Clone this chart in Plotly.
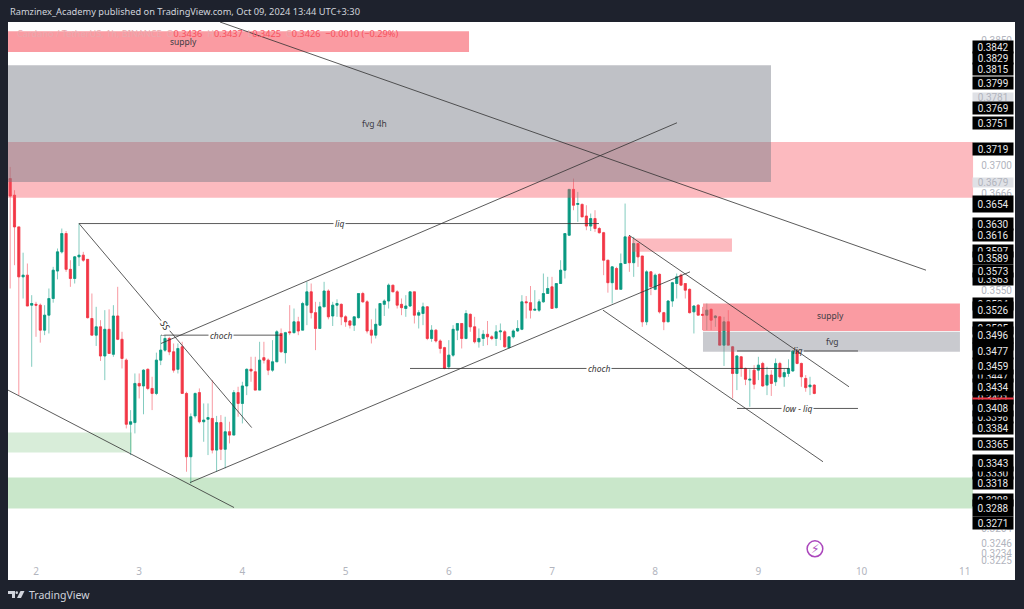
import numpy as np
import plotly.graph_objects as go

# ---------- candle data (hourly, Oct 1 18:00 onward) ----------
opens = [0.3684,0.3664,0.3626,0.3566,0.3568,0.3532,0.3533,0.3532,0.3502,0.3520,
0.3540,0.3573,0.3596,0.3618,0.3575,0.3564,0.3590,0.3592,0.3587,0.3516,
0.3496,0.3506,0.3471,0.3503,0.3473,0.3519,0.3491,0.3466,0.3389,0.3391,
0.3438,0.3435,0.3455,0.3432,0.3426,0.3466,0.3478,0.3492,0.3476,0.3455,
0.3482,0.3426,0.3350,0.3399,0.3427,0.3392,0.3395,0.3396,0.3358,0.3391,
0.3359,0.3380,0.3376,0.3427,0.3414,0.3435,0.3455,0.3452,0.3430,0.3469,
0.3466,0.3454,0.3464,0.3498,0.3475,0.3500,0.3499,0.3512,0.3502,0.3532,
0.3548,0.3523,0.3504,0.3530,0.3549,0.3519,0.3532,0.3533,0.3518,0.3513,
0.3508,0.3517,0.3546,0.3536,0.3502,0.3496,0.3508,0.3533,0.3537,0.3556,
0.3548,0.3533,0.3528,0.3531,0.3548,0.3520,0.3522,0.3530,0.3492,0.3502,
0.3489,0.3481,0.3458,0.3472,0.3502,0.3510,0.3492,0.3521,0.3506,0.3488,
0.3492,0.3497,0.3494,0.3492,0.3500,0.3500,0.3481,0.3494,0.3501,0.3503,
0.3536,0.3535,0.3526,0.3526,0.3536,0.3546,0.3554,0.3529,0.3558,0.3574,
0.3616,0.3671,0.3653,0.3653,0.3639,0.3627,0.3636,0.3624,0.3619,0.3586,
0.3559,0.3576,0.3551,0.3582,0.3614,0.3583,0.3606,0.3591,0.3512,0.3572,
0.3551,0.3569,0.3523,0.3512,0.3537,0.3558,0.3568,0.3558,0.3551,0.3524,
0.3532,0.3521,0.3520,0.3527,0.3517,0.3518,0.3484,0.3512,0.3482,0.3450,
0.3470,0.3456,0.3442,0.3454,0.3454,0.3462,0.3436,0.3448,0.3440,0.3462,
0.3446,0.3450,0.3453,0.3477,0.3462,0.3444,0.3434,0.3436]
closes = [0.3663,0.3626,0.3566,0.3568,0.3531,0.3534,0.3532,0.3502,0.3520,0.3540,
0.3574,0.3596,0.3618,0.3575,0.3564,0.3590,0.3592,0.3586,0.3517,0.3496,
0.3506,0.3471,0.3503,0.3474,0.3519,0.3491,0.3468,0.3389,0.3392,0.3438,
0.3435,0.3454,0.3432,0.3426,0.3466,0.3478,0.3492,0.3476,0.3454,0.3480,
0.3426,0.3350,0.3398,0.3426,0.3392,0.3394,0.3397,0.3358,0.3391,0.3359,
0.3380,0.3376,0.3427,0.3414,0.3435,0.3455,0.3453,0.3430,0.3466,0.3466,
0.3454,0.3464,0.3500,0.3476,0.3499,0.3499,0.3512,0.3501,0.3534,0.3548,
0.3523,0.3504,0.3530,0.3549,0.3518,0.3532,0.3534,0.3518,0.3512,0.3508,
0.3518,0.3546,0.3536,0.3501,0.3496,0.3509,0.3534,0.3537,0.3556,0.3548,
0.3532,0.3529,0.3531,0.3548,0.3520,0.3523,0.3530,0.3492,0.3502,0.3489,
0.3480,0.3456,0.3472,0.3503,0.3510,0.3492,0.3522,0.3506,0.3488,0.3492,
0.3497,0.3494,0.3492,0.3500,0.3501,0.3482,0.3494,0.3501,0.3504,0.3536,
0.3535,0.3526,0.3527,0.3536,0.3546,0.3552,0.3528,0.3558,0.3574,0.3618,
0.3671,0.3652,0.3654,0.3638,0.3627,0.3636,0.3624,0.3619,0.3586,0.3559,
0.3578,0.3551,0.3582,0.3614,0.3583,0.3606,0.3590,0.3512,0.3572,0.3554,
0.3568,0.3524,0.3512,0.3537,0.3559,0.3566,0.3556,0.3550,0.3523,0.3531,
0.3520,0.3520,0.3526,0.3514,0.3519,0.3484,0.3512,0.3484,0.3450,0.3471,
0.3456,0.3443,0.3443,0.3437,0.3460,0.3435,0.3448,0.3438,0.3462,0.3446,
0.3451,0.3456,0.3477,0.3462,0.3446,0.3433,0.3436,0.3426]
highs = [0.3698,0.3670,0.3626,0.3595,0.3582,0.3544,0.3536,0.3534,0.3532,0.3552,
0.3578,0.3600,0.3624,0.3621,0.3586,0.3591,0.3630,0.3596,0.3587,0.3546,
0.3530,0.3514,0.3526,0.3527,0.3532,0.3554,0.3500,0.3468,0.3406,0.3450,
0.3450,0.3455,0.3456,0.3446,0.3475,0.3496,0.3496,0.3494,0.3486,0.3486,
0.3488,0.3428,0.3402,0.3427,0.3432,0.3414,0.3414,0.3442,0.3399,0.3400,
0.3398,0.3392,0.3430,0.3434,0.3440,0.3456,0.3470,0.3470,0.3488,0.3488,
0.3468,0.3490,0.3502,0.3504,0.3500,0.3532,0.3528,0.3518,0.3536,0.3560,
0.3558,0.3536,0.3536,0.3560,0.3551,0.3536,0.3539,0.3534,0.3520,0.3514,
0.3518,0.3546,0.3548,0.3538,0.3515,0.3528,0.3534,0.3539,0.3558,0.3556,
0.3550,0.3540,0.3544,0.3548,0.3548,0.3526,0.3535,0.3531,0.3508,0.3503,
0.3491,0.3482,0.3490,0.3508,0.3510,0.3510,0.3526,0.3522,0.3518,0.3504,
0.3502,0.3513,0.3496,0.3508,0.3510,0.3502,0.3494,0.3503,0.3514,0.3544,
0.3543,0.3555,0.3550,0.3539,0.3570,0.3566,0.3566,0.3558,0.3586,0.3618,
0.3671,0.3684,0.3668,0.3654,0.3652,0.3642,0.3646,0.3626,0.3620,0.3586,
0.3579,0.3578,0.3594,0.3654,0.3616,0.3614,0.3606,0.3591,0.3574,0.3573,
0.3570,0.3570,0.3524,0.3538,0.3560,0.3570,0.3570,0.3558,0.3552,0.3532,
0.3533,0.3530,0.3534,0.3528,0.3520,0.3519,0.3518,0.3526,0.3483,0.3472,
0.3471,0.3457,0.3455,0.3460,0.3470,0.3464,0.3458,0.3454,0.3468,0.3464,
0.3456,0.3467,0.3478,0.3479,0.3463,0.3448,0.3446,0.3437]
lows = [0.3552,0.3580,0.3424,0.3540,0.3531,0.3458,0.3494,0.3487,0.3496,0.3498,
0.3535,0.3563,0.3594,0.3572,0.3554,0.3558,0.3579,0.3584,0.3516,0.3496,
0.3483,0.3465,0.3442,0.3474,0.3470,0.3490,0.3456,0.3384,0.3352,0.3378,
0.3420,0.3401,0.3430,0.3406,0.3424,0.3460,0.3476,0.3472,0.3451,0.3450,
0.3426,0.3332,0.3318,0.3396,0.3390,0.3368,0.3352,0.3354,0.3332,0.3346,
0.3336,0.3366,0.3376,0.3398,0.3390,0.3424,0.3440,0.3430,0.3430,0.3462,
0.3448,0.3452,0.3464,0.3475,0.3462,0.3496,0.3498,0.3496,0.3502,0.3508,
0.3516,0.3478,0.3504,0.3530,0.3515,0.3507,0.3518,0.3508,0.3506,0.3504,
0.3501,0.3516,0.3535,0.3498,0.3486,0.3492,0.3507,0.3519,0.3528,0.3548,
0.3528,0.3520,0.3518,0.3530,0.3510,0.3504,0.3508,0.3490,0.3488,0.3487,
0.3474,0.3455,0.3455,0.3470,0.3490,0.3480,0.3491,0.3500,0.3486,0.3481,
0.3483,0.3484,0.3490,0.3483,0.3490,0.3481,0.3480,0.3492,0.3500,0.3502,
0.3516,0.3516,0.3526,0.3524,0.3535,0.3546,0.3528,0.3528,0.3564,0.3564,
0.3615,0.3646,0.3632,0.3638,0.3622,0.3621,0.3620,0.3618,0.3568,0.3547,
0.3534,0.3551,0.3551,0.3582,0.3572,0.3566,0.3578,0.3506,0.3508,0.3544,
0.3550,0.3522,0.3502,0.3512,0.3530,0.3540,0.3556,0.3540,0.3522,0.3498,
0.3520,0.3502,0.3502,0.3502,0.3506,0.3484,0.3459,0.3484,0.3420,0.3430,
0.3446,0.3436,0.3410,0.3431,0.3442,0.3434,0.3424,0.3423,0.3435,0.3444,
0.3434,0.3446,0.3452,0.3461,0.3434,0.3428,0.3424,0.3425]

# ---------- axis labels ----------
day_ticks = [2, 3, 4, 5, 6, 7, 8, 9, 10, 11]
axis_prices = [0.3850, 0.3700, 0.3666, 0.3550, 0.3264, 0.3246, 0.3234, 0.3225]
soft_tags = [0.3781, 0.3679]
hidden_tags = [0.3597, 0.3563, 0.3534, 0.3505, 0.3485, 0.3447, 0.3421, 0.3398, 0.3330, 0.3298]
price_tags = [0.3842, 0.3829, 0.3815, 0.3799, 0.3769, 0.3751, 0.3719, 0.3654, 0.3630, 0.3616,
              0.3589, 0.3573, 0.3526, 0.3496, 0.3477, 0.3459, 0.3434, 0.3408, 0.3384, 0.3365,
              0.3343, 0.3318, 0.3288, 0.3271]
tall_tags = [0.3654, 0.3526, 0.3496, 0.3477, 0.3459, 0.3434, 0.3408, 0.3343, 0.3288]

# ---------- drawings: (day, price) ----------
trend_lines = [
    (3.783, 0.3872, 10.624, 0.3574),
    (3.211, 0.3486, 8.211, 0.3751),
    (3.492, 0.3319, 8.337, 0.3572),
    (1.729, 0.3430, 3.919, 0.3289),
    (2.417, 0.3630, 4.090, 0.3385),
    (2.417, 0.3630, 7.455, 0.3630),
    (3.211, 0.3496, 4.384, 0.3496),
    (5.624, 0.3456, 9.297, 0.3456),
    (7.746, 0.3616, 9.878, 0.3434),
    (7.494, 0.3526, 9.626, 0.3344),
    (8.793, 0.3408, 9.965, 0.3408),
    (8.793, 0.3477, 9.310, 0.3477),
    (9.440, 0.3477, 9.965, 0.3477),
]
SUPPLY = "rgba(247,82,95,0.58)"
LIGHT_RED = "rgba(247,82,95,0.40)"
GRAY = "rgba(120,123,134,0.47)"
GRAY2 = "rgba(120,123,134,0.40)"
zones = [
    (1.729, 6.196, 0.3861, 0.3836, SUPPLY),
    (1.729, 11.08, 0.3728, 0.3661, LIGHT_RED),
    (1.729, 9.122, 0.3820, 0.3680, GRAY),
    (7.775, 8.744, 0.3612, 0.3596, LIGHT_RED),
    (8.463, 10.953, 0.3534, 0.3501, SUPPLY),
    (8.463, 10.953, 0.3500, 0.3476, GRAY2),
    (1.729, 2.930, 0.3379, 0.3355, "rgba(76,175,80,0.22)"),
    (1.729, 11.08, 0.3325, 0.3288, "rgba(76,175,80,0.30)"),
]
zone_labels = [("supply", 3.43, 0.3848), ("fvg 4h", 5.28, 0.3750), ("supply", 9.70, 0.3519), ("fvg", 9.71, 0.3488)]
line_labels = [("liq", 4.94, 0.3630), ("choch", 3.79, 0.3496), ("choch", 7.46, 0.3456),
               ("low - liq", 9.38, 0.3408)]

hours = np.arange(len(opens))
days = 1.75 + hours / 24

UP, DOWN = "#089981", "#f23645"
UP_W, DOWN_W = "rgba(8,153,129,0.5)", "rgba(242,54,69,0.5)"

fig = go.Figure()
fig.add_trace(go.Candlestick(
    x=days, open=opens, high=highs, low=lows, close=closes, showlegend=False,
    increasing=dict(line=dict(color=UP_W, width=1), fillcolor="rgba(0,0,0,0)"),
    decreasing=dict(line=dict(color=DOWN_W, width=1), fillcolor="rgba(0,0,0,0)"),
))
fig.add_trace(go.Candlestick(
    x=days, open=opens, close=closes, showlegend=False,
    high=[max(a, b) for a, b in zip(opens, closes)],
    low=[min(a, b) for a, b in zip(opens, closes)],
    increasing=dict(line=dict(color=UP, width=0.6), fillcolor=UP),
    decreasing=dict(line=dict(color=DOWN, width=0.6), fillcolor=DOWN),
))

L, R, T, B = 8, 1015, 22, 580
W, H = 1024, 609
def px(x): return (x - L) / (R - L)
def py(y): return (B - y) / (B - T)

shapes = []
for x0, x1, y0, y1, c in zones:
    shapes.append(dict(type="rect", xref="x", yref="y", x0=x0, x1=x1, y0=y0, y1=y1,
                       fillcolor=c, line_width=0, layer="above"))
for x0, y0, x1, y1 in trend_lines:
    shapes.append(dict(type="line", xref="x", yref="y", x0=x0, y0=y0, x1=x1, y1=y1,
                       line=dict(color="rgba(50,50,50,0.8)", width=1), layer="above"))

# TradingView logo (page furniture)
shapes += [
    dict(type="path", xref="paper", yref="paper", fillcolor="#d1d4dc", line_width=0,
         path=f"M {px(8)} {py(591)} L {px(15)} {py(591)} L {px(15)} {py(598)} L {px(12)} {py(598)} L {px(12)} {py(594)} L {px(8)} {py(594)} Z"),
    dict(type="circle", xref="paper", yref="paper", fillcolor="#d1d4dc", line_width=0,
         x0=px(15.5), x1=px(18), y0=py(594), y1=py(591.3)),
    dict(type="path", xref="paper", yref="paper", fillcolor="#d1d4dc", line_width=0,
         path=f"M {px(20.5)} {py(591)} L {px(24.5)} {py(591)} L {px(21)} {py(598)} L {px(17)} {py(598)} Z"),
]

ann = []
TXT = "Noto Sans"
for t, x, y in zone_labels:
    ann.append(dict(text=t, x=x, y=y, xref="x", yref="y", showarrow=False,
                    font=dict(family=TXT, size=8.5, color="#3c3c44")))
for t, x, y in line_labels:
    ann.append(dict(text=f"<i>{t}</i>", x=x, y=y, xref="x", yref="y", showarrow=False, bgcolor="#ffffff",
                    borderpad=1, font=dict(family=TXT, size=8.5, color="#333")))
ann.append(dict(text="<i>liq</i>", x=9.38, y=0.3477, xref="x", yref="y", showarrow=False,
                font=dict(family=TXT, size=8.5, color="#333")))
ann.append(dict(text="<i>SS</i>", x=3.25, y=0.3507, xref="x", yref="y", showarrow=False, textangle=55,
                bgcolor="#ffffff", font=dict(family=TXT, size=9, color="#222")))

TAG_X = px(993)
for v in soft_tags:
    ann.append(dict(text=f"{v:.4f}", x=TAG_X, y=v, xref="paper", yref="y", showarrow=False, xanchor="center",
                    bgcolor="#dfe1e6", width=40, height=9, borderpad=0,
                    font=dict(family="Roboto", size=10, color="#b2b5be")))
for v in hidden_tags + price_tags:
    ann.append(dict(text=f"{v:.4f}", x=TAG_X, y=v, xref="paper", yref="y", showarrow=False, xanchor="center",
                    bgcolor="#000000", width=40, height=16 if v in tall_tags else 12, borderpad=0,
                    font=dict(family="Roboto", size=10, color="#e8e8ea")))
# current price tag: only a thin strip shows between its neighbours
ann.append(dict(text="&nbsp;", x=TAG_X, y=0.34196, xref="paper", yref="y", showarrow=False, xanchor="center",
                bgcolor=DOWN, width=40, height=1, borderpad=0, font=dict(size=1, color=DOWN)))

# header, legend, footer
ann.append(dict(text="Ramzinex_Academy published on TradingView.com, Oct 09, 2024 13:44 UTC+3:30",
                x=px(8), y=py(12), xref="paper", yref="paper", showarrow=False, xanchor="left", yanchor="middle",
                font=dict(family=TXT, size=9.25, color="#d1d4dc")))
v = "#f7525f"
g = "#e9a9ae"
ann.append(dict(text=(f"<span style='color:{g}'>Cardano / TetherUS, 1h, BINANCE  O</span>0.3436"
                      f"  <span style='color:{g}'>H</span>0.3437  <span style='color:{g}'>L</span>0.3425"
                      f"  <span style='color:{g}'>C</span>0.3426  −0.0010 (−0.29%)"),
                x=px(15), y=py(34), xref="paper", yref="paper", showarrow=False, xanchor="left", yanchor="middle",
                font=dict(family=TXT, size=9.2, color=v)))
ann.append(dict(text="TradingView", x=px(27), y=py(595), xref="paper", yref="paper", showarrow=False, xanchor="left",
                yanchor="middle", font=dict(family=TXT, size=10.5, color="#d1d4dc")))
ann.append(dict(text="⚡", x=9.548, y=0.32395, xref="x", yref="y", showarrow=False,
                font=dict(family="DejaVu Sans", size=12, color="#ab47bc")))
shapes.append(dict(type="circle", xref="x", yref="y", x0=9.472, x1=9.624, y0=0.3230, y1=0.3249,
                   line=dict(color="#ab47bc", width=1.5), layer="above"))

fig.update_layout(
    width=W, height=H, margin=dict(l=L, r=W - R, t=T, b=H - B),
    paper_bgcolor="#1e222d", plot_bgcolor="#ffffff", showlegend=False,
    shapes=shapes, annotations=ann, font=dict(family=TXT),
    xaxis=dict(range=[2 + (L - 36) / 103.2, 2 + (R - 36) / 103.2], rangeslider_visible=False,
               tickmode="array", tickvals=day_ticks, ticktext=[str(d) for d in day_ticks],
               ticklabelposition="inside", showgrid=False, zeroline=False, ticks="",
               tickfont=dict(size=10, color="#b2b5be", family=TXT), showline=False),
    yaxis=dict(range=[0.3202, 0.3872], side="right", tickmode="array", tickvals=axis_prices,
               ticktext=[f"{v:.4f}" for v in axis_prices], ticklabelposition="inside",
               showgrid=False, zeroline=False, ticks="", ticklen=0,
               tickfont=dict(size=10, color="#b2b5be", family="Roboto"), showline=False),
)
fig.write_html("out.html", config={"displayModeBar": False},
               post_script="document.body.style.margin='0';document.body.style.background='#1e222d';")
